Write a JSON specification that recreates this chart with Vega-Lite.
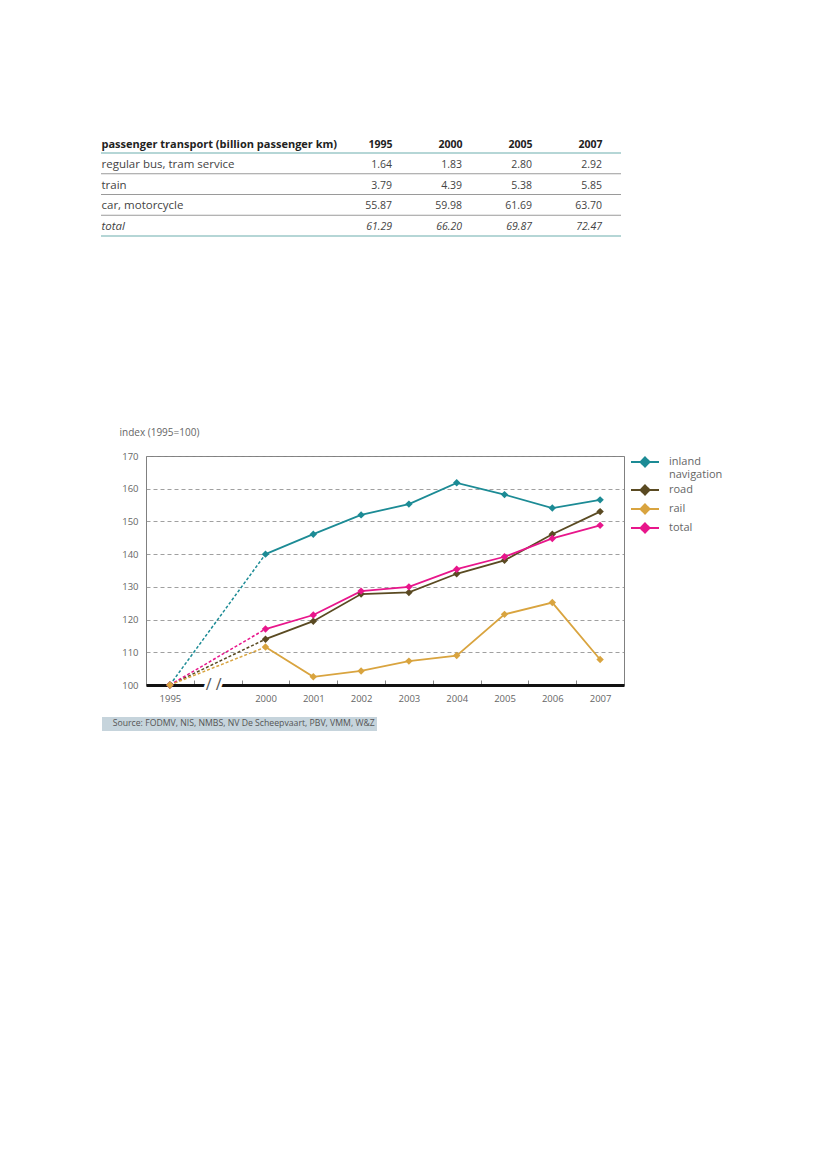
{
  "$schema": "https://vega.github.io/schema/vega-lite/v6.json",
  "background": "white",
  "padding": {"left": 100, "top": 138, "right": 10, "bottom": 10},
  "config": {
    "font": "Open Sans",
    "view": {"stroke": null},
    "axis": {"labelFont": "Open Sans", "titleFont": "Open Sans"},
    "legend": {"labelFont": "Open Sans", "titleFont": "Open Sans"},
    "text": {"font": "Open Sans"}
  },
  "spacing": 189,
  "resolve": {"scale": {"color": "independent", "shape": "independent"}, "legend": {"color": "independent", "shape": "independent"}},
  "vconcat": [
    {
      "width": 475,
      "height": 83,
      "data": {
        "values": [
          {"item": "regular bus, tram service", "1995": 1.64, "2000": 1.83, "2005": 2.80, "2007": 2.92},
          {"item": "train", "1995": 3.79, "2000": 4.39, "2005": 5.38, "2007": 5.85},
          {"item": "car, motorcycle", "1995": 55.87, "2000": 59.98, "2005": 61.69, "2007": 63.70},
          {"item": "total", "1995": 61.29, "2000": 66.20, "2005": 69.87, "2007": 72.47}
        ]
      },
      "resolve": {"scale": {"x": "independent"}, "axis": {"x": "independent"}},
      "encoding": {
        "y": {
          "field": "item",
          "type": "nominal",
          "scale": {"type": "band", "domain": ["regular bus, tram service", "train", "car, motorcycle", "total"], "paddingInner": 0, "paddingOuter": 0},
          "axis": {
            "title": null,
            "orient": "left",
            "domain": false,
            "ticks": false,
            "tickSize": 0,
            "labelPadding": 45,
            "labelAlign": "left",
            "labelBaseline": "middle",
            "labelOffset": 1.5,
            "labelFontSize": 11.5,
            "labelColor": "#444",
            "labelFontStyle": {"condition": {"test": "datum.value == 'total'", "value": "italic"}, "value": "normal"},
            "labelLimit": 300
          }
        }
      },
      "layer": [
        {
          "transform": [{"filter": "datum.item != 'regular bus, tram service'"}],
          "mark": {"type": "rule", "color": "#9a9a9a", "strokeWidth": 1.2},
          "encoding": {
            "x": {"datum": 0, "type": "quantitative", "scale": {"domain": [0, 1], "range": [-45, 475]}, "axis": null},
            "x2": {"datum": 1},
            "y": {"field": "item", "type": "nominal", "bandPosition": 0}
          }
        },
        {
          "transform": [{"filter": "datum.item == 'regular bus, tram service'"}],
          "mark": {"type": "rule", "color": "#b5d6d6", "strokeWidth": 2},
          "encoding": {
            "x": {"datum": 0, "type": "quantitative", "scale": {"domain": [0, 1], "range": [-45, 475]}, "axis": null},
            "x2": {"datum": 1},
            "y": {"field": "item", "type": "nominal", "bandPosition": 0}
          }
        },
        {
          "transform": [{"filter": "datum.item == 'total'"}],
          "mark": {"type": "rule", "color": "#b5d6d6", "strokeWidth": 2},
          "encoding": {
            "x": {"datum": 0, "type": "quantitative", "scale": {"domain": [0, 1], "range": [-45, 475]}, "axis": null},
            "x2": {"datum": 1},
            "y": {"field": "item", "type": "nominal", "bandPosition": 1}
          }
        },
        {
          "transform": [
            {"fold": ["1995", "2000", "2005", "2007"], "as": ["year", "value"]},
            {"filter": "datum.item != 'total'"}
          ],
          "mark": {"type": "text", "align": "right", "baseline": "middle", "dy": 1.5, "fontSize": 10.5, "color": "#444"},
          "encoding": {
            "x": {
              "field": "year",
              "type": "ordinal",
              "scale": {"type": "point", "domain": ["1995", "2000", "2005", "2007"], "range": [246, 456], "padding": 0},
              "axis": {
                "orient": "top",
                "title": "passenger transport (billion passenger km)",
                "titleX": -45,
                "titleY": -9,
                "titleAlign": "left",
                "titleAnchor": "start",
                "titleBaseline": "middle",
                "titleFontSize": 11,
                "titleFontWeight": "bold",
                "titleColor": "#222",
                "domain": false,
                "ticks": false,
                "tickSize": 0,
                "labelPadding": 9,
                "labelAlign": "right",
                "labelBaseline": "middle",
                "labelAngle": 0,
                "labelFontSize": 10.5,
                "labelFontWeight": "bold",
                "labelColor": "#222"
              }
            },
            "text": {"field": "value", "type": "quantitative", "format": ".2f"}
          }
        },
        {
          "transform": [
            {"fold": ["1995", "2000", "2005", "2007"], "as": ["year", "value"]},
            {"filter": "datum.item == 'total'"}
          ],
          "mark": {"type": "text", "align": "right", "baseline": "middle", "dy": 1.5, "fontSize": 10.5, "fontStyle": "italic", "color": "#444"},
          "encoding": {
            "x": {
              "field": "year",
              "type": "ordinal",
              "scale": {"type": "point", "domain": ["1995", "2000", "2005", "2007"], "range": [246, 456], "padding": 0},
              "axis": null
            },
            "text": {"field": "value", "type": "quantitative", "format": ".2f"}
          }
        }
      ]
    },
    {
      "width": 478,
      "height": 229,
      "view": {"stroke": "#808080", "strokeWidth": 1},
      "data": {
        "values": [
          {"series": "inland navigation", "year": "1995", "value": 100},
          {"series": "inland navigation", "year": "2000", "value": 140},
          {"series": "inland navigation", "year": "2001", "value": 146.1},
          {"series": "inland navigation", "year": "2002", "value": 152},
          {"series": "inland navigation", "year": "2003", "value": 155.3},
          {"series": "inland navigation", "year": "2004", "value": 161.8},
          {"series": "inland navigation", "year": "2005", "value": 158.2},
          {"series": "inland navigation", "year": "2006", "value": 154.1},
          {"series": "inland navigation", "year": "2007", "value": 156.6},
          {"series": "road", "year": "1995", "value": 100},
          {"series": "road", "year": "2000", "value": 114},
          {"series": "road", "year": "2001", "value": 119.5},
          {"series": "road", "year": "2002", "value": 127.8},
          {"series": "road", "year": "2003", "value": 128.3},
          {"series": "road", "year": "2004", "value": 134},
          {"series": "road", "year": "2005", "value": 138.1},
          {"series": "road", "year": "2006", "value": 146.1},
          {"series": "road", "year": "2007", "value": 153},
          {"series": "total", "year": "1995", "value": 100},
          {"series": "total", "year": "2000", "value": 117.1},
          {"series": "total", "year": "2001", "value": 121.4},
          {"series": "total", "year": "2002", "value": 128.7},
          {"series": "total", "year": "2003", "value": 130},
          {"series": "total", "year": "2004", "value": 135.4},
          {"series": "total", "year": "2005", "value": 139.2},
          {"series": "total", "year": "2006", "value": 144.8},
          {"series": "total", "year": "2007", "value": 148.8},
          {"series": "rail", "year": "1995", "value": 100},
          {"series": "rail", "year": "2000", "value": 111.6},
          {"series": "rail", "year": "2001", "value": 102.5},
          {"series": "rail", "year": "2002", "value": 104.3},
          {"series": "rail", "year": "2003", "value": 107.3},
          {"series": "rail", "year": "2004", "value": 109},
          {"series": "rail", "year": "2005", "value": 121.6},
          {"series": "rail", "year": "2006", "value": 125.2},
          {"series": "rail", "year": "2007", "value": 107.8}
        ]
      },
      "layer": [
        {
          "transform": [{"filter": "datum.year != '1995'"}],
          "mark": {"type": "line", "strokeWidth": 1.8},
          "encoding": {
            "x": {
              "field": "year",
              "type": "ordinal",
              "scale": {"type": "band", "domain": ["1995", "gap", "2000", "2001", "2002", "2003", "2004", "2005", "2006", "2007"], "paddingInner": 0, "paddingOuter": 0},
              "axis": {
                "title": null,
                "domainColor": "#111",
                "domainWidth": 3,
                "ticks": true,
                "tickBand": "extent",
                "tickSize": -5,
                "tickColor": "#888",
                "tickWidth": 1,
                "labelExpr": "datum.value == 'gap' ? '' : datum.label",
                "labelPadding": 13,
                "labelAngle": 0,
                "labelFontSize": 9.5,
                "labelColor": "#666"
              }
            },
            "y": {
              "field": "value",
              "type": "quantitative",
              "scale": {"domain": [100, 170], "nice": false, "zero": false},
              "axis": {"title": "index (1995=100)", "titleAngle": 0, "titleAlign": "left", "titleBaseline": "middle", "titleX": -27, "titleY": -24, "titleFontWeight": "normal", "titleFontSize": 10, "titleColor": "#666", "values": [100, 110, 120, 130, 140, 150, 160, 170], "domain": false, "ticks": false, "labelPadding": 8, "labelFontSize": 9.5, "labelColor": "#666", "grid": true, "gridDash": [4, 3], "gridColor": "#888", "gridWidth": 0.8}
            },
            "color": {
              "field": "series",
              "type": "nominal",
              "scale": {"domain": ["inland navigation", "road", "rail", "total"], "range": ["#1c8b95", "#5a4a22", "#d9a43f", "#e8168b"]},
              "legend": {
                "title": null,
                "orient": "right",
                "offset": 15,
                "padding": 0,
                "symbolType": "M-2.8,0H2.8M0,-0.9L0.9,0L0,0.9L-0.9,0Z",
                "symbolSize": 100,
                "symbolStrokeWidth": 2,
                "symbolDash": [1, 0],
                "labelOffset": 18,
                "labelFontSize": 11,
                "labelColor": "#666",
                "rowPadding": 1,
                "labelExpr": "datum.label == 'inland navigation' ? ['inland', 'navigation'] : datum.label"
              }
            }
          }
        },
        {
          "transform": [{"filter": "datum.year == '1995' || datum.year == '2000'"}],
          "mark": {"type": "line", "strokeWidth": 1.5, "strokeDash": [3, 2]},
          "encoding": {
            "x": {"field": "year", "type": "ordinal"},
            "y": {
              "field": "value",
              "type": "quantitative",
              "axis": {"title": "index (1995=100)", "titleAngle": 0, "titleAlign": "left", "titleBaseline": "middle", "titleX": -27, "titleY": -24, "titleFontWeight": "normal", "titleFontSize": 10, "titleColor": "#666", "values": [100, 110, 120, 130, 140, 150, 160, 170], "domain": false, "ticks": false, "labelPadding": 8, "labelFontSize": 9.5, "labelColor": "#666", "grid": true, "gridDash": [4, 3], "gridColor": "#888", "gridWidth": 0.8}
            },
            "color": {"field": "series", "type": "nominal"}
          }
        },
        {
          "mark": {"type": "point", "shape": "diamond", "filled": true, "size": 55, "opacity": 1},
          "encoding": {
            "x": {"field": "year", "type": "ordinal"},
            "y": {
              "field": "value",
              "type": "quantitative",
              "axis": {"title": "index (1995=100)", "titleAngle": 0, "titleAlign": "left", "titleBaseline": "middle", "titleX": -27, "titleY": -24, "titleFontWeight": "normal", "titleFontSize": 10, "titleColor": "#666", "values": [100, 110, 120, 130, 140, 150, 160, 170], "domain": false, "ticks": false, "labelPadding": 8, "labelFontSize": 9.5, "labelColor": "#666", "grid": true, "gridDash": [4, 3], "gridColor": "#888", "gridWidth": 0.8}
            },
            "color": {"field": "series", "type": "nominal"}
          }
        },
        {
          "data": {"values": [{"year": "gap", "value": 100}]},
          "mark": {"type": "text", "text": "/-/", "fontSize": 16, "stroke": "white", "strokeWidth": 5, "dx": -4, "baseline": "middle"},
          "encoding": {
            "x": {"field": "year", "type": "ordinal"},
            "y": {
              "field": "value",
              "type": "quantitative",
              "axis": {"title": "index (1995=100)", "titleAngle": 0, "titleAlign": "left", "titleBaseline": "middle", "titleX": -27, "titleY": -24, "titleFontWeight": "normal", "titleFontSize": 10, "titleColor": "#666", "values": [100, 110, 120, 130, 140, 150, 160, 170], "domain": false, "ticks": false, "labelPadding": 8, "labelFontSize": 9.5, "labelColor": "#666", "grid": true, "gridDash": [4, 3], "gridColor": "#888", "gridWidth": 0.8}
            },
            "color": {"value": "white"}
          }
        },
        {
          "data": {"values": [{"year": "gap", "value": 100}]},
          "mark": {"type": "text", "text": "/ /", "fontSize": 16, "dx": -4, "baseline": "middle"},
          "encoding": {
            "x": {"field": "year", "type": "ordinal"},
            "y": {
              "field": "value",
              "type": "quantitative",
              "axis": {"title": "index (1995=100)", "titleAngle": 0, "titleAlign": "left", "titleBaseline": "middle", "titleX": -27, "titleY": -24, "titleFontWeight": "normal", "titleFontSize": 10, "titleColor": "#666", "values": [100, 110, 120, 130, 140, 150, 160, 170], "domain": false, "ticks": false, "labelPadding": 8, "labelFontSize": 9.5, "labelColor": "#666", "grid": true, "gridDash": [4, 3], "gridColor": "#888", "gridWidth": 0.8}
            },
            "color": {"value": "#555"}
          }
        },
        {
          "data": {"values": [{"note": "Source: FODMV, NIS, NMBS, NV De Scheepvaart, PBV, VMM, W&Z"}]},
          "mark": {"type": "point", "opacity": 0, "size": 1},
          "encoding": {
            "shape": {
              "field": "note",
              "type": "nominal",
              "legend": {
                "orient": "none",
                "legendX": -44,
                "legendY": 261,
                "title": null,
                "fillColor": "#c6d4dc",
                "padding": 2,
                "symbolSize": 1,
                "symbolFillColor": "transparent",
                "symbolStrokeColor": "transparent",
                "labelOffset": 0,
                "labelFontSize": 8.7,
                "labelColor": "#555",
                "labelLimit": 400
              }
            }
          }
        }
      ]
    }
  ]
}
